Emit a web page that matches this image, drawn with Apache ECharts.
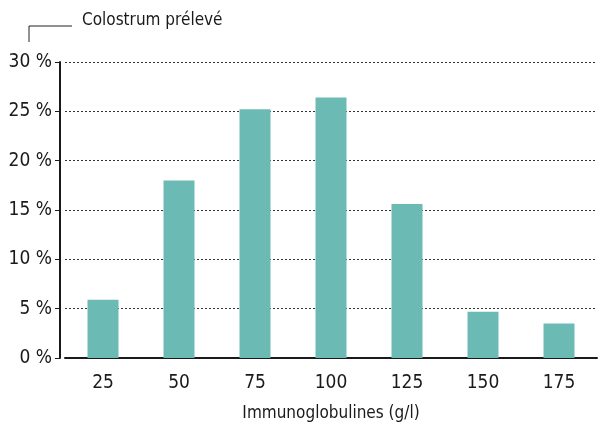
<!DOCTYPE html>
<html>
<head>
<meta charset="utf-8">
<script src="https://cdn.jsdelivr.net/npm/echarts@6/dist/echarts.min.js"></script>
<style>
  html, body { margin: 0; padding: 0; background: #fff; }
  #chart { width: 601px; height: 428px; }
</style>
</head>
<body>
<div id="chart"></div>
<script>
  // données
  let categories = ['25', '50', '75', '100', '125', '150', '175']
  let values = [5.9, 18.0, 25.2, 26.4, 15.6, 4.7, 3.5]
  let seriesName = 'Colostrum prélevé'
  let xName = 'Immunoglobulines (g/l)'

  let font = '"DejaVu Sans Condensed", sans-serif'
  let myChart = echarts.init(document.getElementById('chart'))
  let option = {
    animation: false,
    textStyle: { fontFamily: font },
    grid: { left: 65, right: 4, top: 62, bottom: 70 },
    graphic: [
      {
        type: 'polyline',
        shape: { points: [[29, 42], [29, 26], [72, 26]] },
        style: { stroke: '#222', lineWidth: 1, fill: null }
      },
      {
        type: 'text',
        left: 82, top: 12,
        style: { text: seriesName, font: '500 17px ' + font, fill: '#1a1a1a' }
      }
    ],
    xAxis: {
      type: 'category',
      data: categories,
      name: xName,
      nameLocation: 'middle',
      nameGap: 47,
      nameTextStyle: { fontSize: 17, color: '#1a1a1a', fontFamily: font },
      axisLine: { lineStyle: { color: '#1a1a1a', width: 2 } },
      axisTick: { show: false },
      axisLabel: { fontSize: 19, color: '#1a1a1a', margin: 16, fontFamily: font }
    },
    yAxis: {
      type: 'value',
      min: 0,
      max: 30,
      interval: 5,
      offset: 5,
      axisLine: { show: true, lineStyle: { color: '#1a1a1a', width: 2 } },
      axisTick: { show: true, length: 5, lineStyle: { color: '#1a1a1a' } },
      axisLabel: {
        fontSize: 19, color: '#1a1a1a', margin: 8, fontFamily: font,
        formatter: function (v) { return v + ' %' }
      },
      splitLine: { lineStyle: { type: [2, 2], color: '#333', width: 1 } }
    },
    series: [{
      name: seriesName,
      type: 'bar',
      data: values,
      barWidth: 31,
      itemStyle: { color: '#6bbbb4' }
    }]
  }
  myChart.setOption(option)
</script>
</body>
</html>
